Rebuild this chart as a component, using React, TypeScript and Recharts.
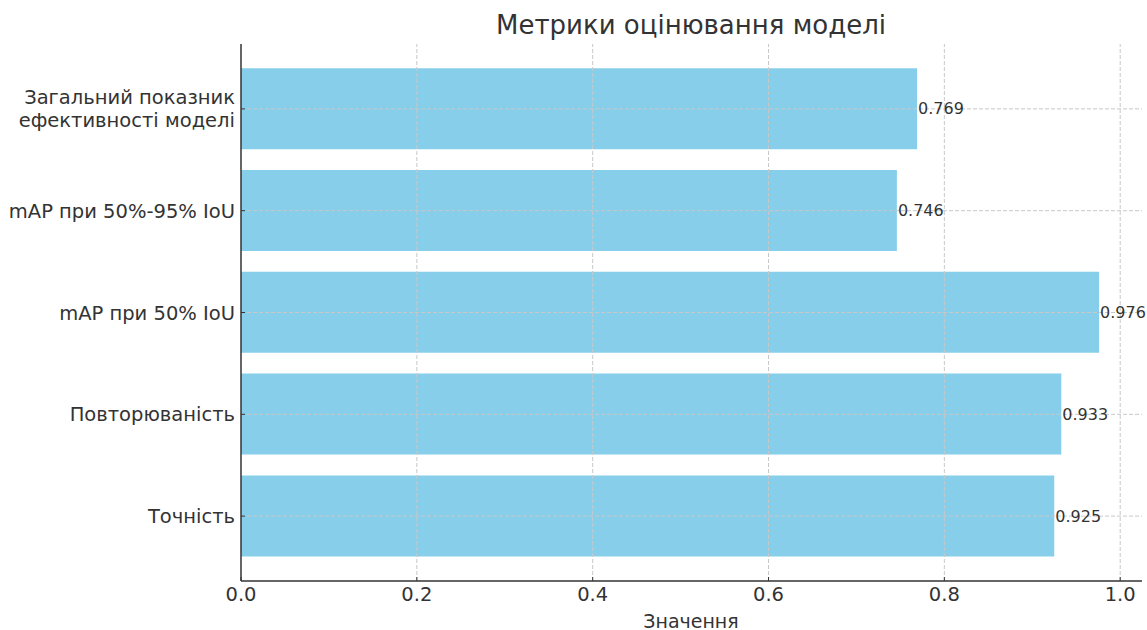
import React from "react";
import { BarChart, Bar, XAxis, YAxis, ReferenceLine, LabelList } from "recharts";

const categories = [
  "Загальний показник ефективності моделі",
  "mAP при 50%-95% IoU",
  "mAP при 50% IoU",
  "Повторюваність",
  "Точність",
];
const values = [0.769, 0.746, 0.976, 0.933, 0.925];
const xTicks = [0, 0.2, 0.4, 0.6, 0.8, 1.0];
const tickLabelLines: Record<string, string[]> = {
  "Загальний показник ефективності моделі": ["Загальний показник", "ефективності моделі"],
};

const data = categories.map((c, i) => ({ name: c, value: values[i] }));

const FONT = "'DejaVu Sans', sans-serif";
const TEXT = "#333333";
const GRID = "#c8c8c8";

const YTick = (props: any) => {
  const { x, y, payload } = props;
  const lines = tickLabelLines[payload.value] || [payload.value];
  const lh = 23;
  const start = -((lines.length - 1) * lh) / 2;
  return (
    <text x={x} y={y} textAnchor="end" fill={TEXT} fontSize={19.5} fontFamily={FONT}>
      {lines.map((l: string, i: number) => (
        <tspan key={i} x={x} y={y + start + i * lh} dy="0.36em">
          {l}
        </tspan>
      ))}
    </text>
  );
};

const ValueLabel = (props: any) => {
  const { x, y, width, height, value } = props;
  return (
    <text
      x={x + width + 1}
      y={y + height / 2}
      dy="0.36em"
      textAnchor="start"
      fill={TEXT}
      fontSize={16}
      fontFamily={FONT}
    >
      {value}
    </text>
  );
};

export default function App() {
  return (
    <div style={{ position: "absolute", left: 0, top: 0, width: 1147, height: 630, background: "#fff" }}>
      <BarChart
        width={1147}
        height={630}
        data={data}
        layout="vertical"
        margin={{ top: 44, right: 5, left: 0, bottom: 0 }}
        barCategoryGap="10%"
      >
        <text x={691} y={26} textAnchor="middle" dominantBaseline="middle" fontSize={26} fill={TEXT} fontFamily={FONT}>
          Метрики оцінювання моделі
        </text>
        <text x={691} y={622} textAnchor="middle" dominantBaseline="middle" fontSize={19} fill={TEXT} fontFamily={FONT}>
          Значення
        </text>
        <XAxis
          type="number"
          dataKey="value"
          domain={[0, 1.0248]}
          ticks={xTicks}
          tickFormatter={(v: number) => v.toFixed(1)}
          allowDataOverflow
          height={49}
          tickSize={-4}
          tickMargin={10}
          tick={{ fill: TEXT, fontSize: 19.5, fontFamily: FONT }}
          axisLine={{ stroke: "#333", strokeWidth: 1.5 }}
          tickLine={{ stroke: "#333" }}
        />
        <YAxis
          type="category"
          dataKey="name"
          width={241}
          padding={{ top: 14, bottom: 14 }}
          tick={<YTick />}
          tickSize={-4}
          tickMargin={10}
          axisLine={{ stroke: "#333", strokeWidth: 1.5 }}
          tickLine={{ stroke: "#333" }}
          interval={0}
        />
        <Bar dataKey="value" fill="#87CEEB" isAnimationActive={false}>
          <LabelList dataKey="value" content={<ValueLabel />} />
        </Bar>
        {xTicks.slice(1).map((t) => (
          <ReferenceLine key={"x" + t} x={t} stroke={GRID} strokeDasharray="4 2" strokeWidth={1} />
        ))}
        {categories.map((c) => (
          <ReferenceLine key={"y" + c} y={c} stroke={GRID} strokeDasharray="4 2" strokeWidth={1} />
        ))}
      </BarChart>
    </div>
  );
}
